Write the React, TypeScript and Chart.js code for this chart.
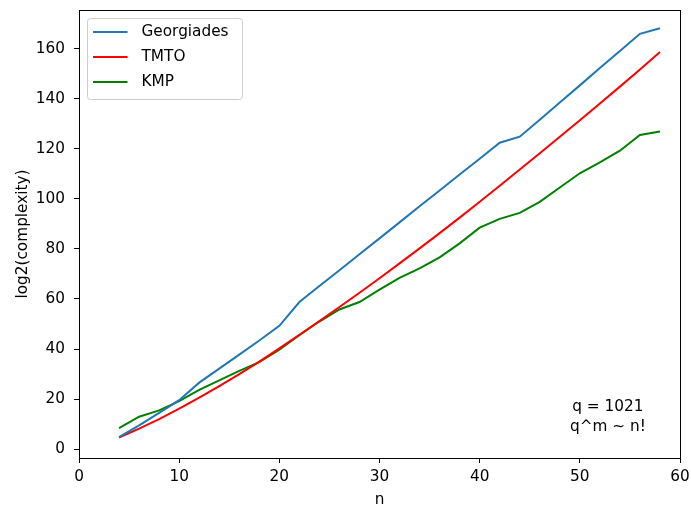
import React, { useEffect, useRef } from "react";
import { Chart, registerables } from "chart.js";

Chart.register(...registerables);

const nValues = [4, 6, 8, 10, 12, 14, 16, 18, 20, 22, 24, 26, 28, 30, 32, 34, 36, 38, 40, 42, 44, 46, 48, 50, 52, 54, 56, 58];
const georgiades = [4.8, 9.5, 14.5, 19.6, 26.6, 32.2, 37.8, 43.4, 49.3, 58.8, 65.2, 71.5, 77.9, 84.2, 90.6, 97.0, 103.3, 109.7, 116.0, 122.4, 124.8, 131.6, 138.5, 145.3, 152.2, 159.0, 165.9, 168.1];
const tmto = [4.7, 8.2, 12.0, 16.2, 20.6, 25.2, 30.0, 35.0, 40.3, 45.7, 51.2, 56.8, 62.5, 68.3, 74.2, 80.2, 86.3, 92.5, 98.8, 105.2, 111.7, 118.2, 124.8, 131.4, 138.1, 144.8, 151.6, 158.6];
const kmp = [8.4, 13.0, 15.5, 19.2, 23.7, 27.5, 31.3, 34.8, 39.8, 45.5, 51.0, 55.8, 58.8, 63.7, 68.4, 72.2, 76.6, 82.2, 88.5, 92.0, 94.4, 98.8, 104.5, 110.2, 114.6, 119.2, 125.5, 126.9];

const seriesNames = ["Georgiades", "TMTO", "KMP"];
const seriesColors = ["#1f77b4", "#ff0000", "#008000"];
const xTicks = [0, 10, 20, 30, 40, 50, 60];
const yTicks = [0, 20, 40, 60, 80, 100, 120, 140, 160];
const annotationLines = ["q = 1021", "q^m ~ n!"];
const xTitle = "n";
const yTitle = "log2(complexity)";

const FONT = "'DejaVu Sans', sans-serif";
const FS = 15.3;

export default function App() {
  const ref = useRef<HTMLCanvasElement | null>(null);

  useEffect(() => {
    document.body.style.margin = "0";
    const canvas = ref.current;
    if (!canvas) return;

    const allSeries = [georgiades, tmto, kmp];

    const framePlugin = {
      id: "frameLegendNote",
      afterDatasetsDraw(chart: any) {
        const { ctx, chartArea } = chart;
        const { left, top, right, bottom } = chartArea;
        ctx.save();
        // frame
        ctx.strokeStyle = "#000";
        ctx.lineWidth = 1;
        ctx.strokeRect(Math.round(left) + 0.5, Math.round(top) + 0.5, Math.round(right - left), Math.round(bottom - top));

        // legend
        const lx = left + 8.5;
        const ly = top + 8.5;
        const lw = 155;
        const lh = 81;
        ctx.beginPath();
        (ctx as any).roundRect(lx, ly, lw, lh, 3);
        ctx.fillStyle = "rgba(255,255,255,0.8)";
        ctx.fill();
        ctx.strokeStyle = "#cccccc";
        ctx.lineWidth = 1;
        ctx.stroke();
        ctx.font = `${FS}px ${FONT}`;
        ctx.textBaseline = "middle";
        ctx.textAlign = "left";
        seriesNames.forEach((name, i) => {
          const y = ly + 13.5 + i * 25;
          ctx.beginPath();
          ctx.strokeStyle = seriesColors[i];
          ctx.lineWidth = 2;
          ctx.moveTo(lx + 5.5, y);
          ctx.lineTo(lx + 40, y);
          ctx.stroke();
          ctx.fillStyle = "#000";
          ctx.fillText(name, lx + 54, y);
        });

        // annotation
        const xs = chart.scales.x;
        const ys = chart.scales.y;
        const cx = xs.getPixelForValue(52.8);
        const cy = ys.getPixelForValue(12.9);
        ctx.textAlign = "center";
        ctx.fillStyle = "#000";
        ctx.fillText(annotationLines[0], cx, cy - 10);
        ctx.fillText(annotationLines[1], cx, cy + 10);
        ctx.restore();
      },
    };

    const zeroPad = (scale: any) => {
      scale.paddingTop = 0;
      scale.paddingBottom = 0;
      scale.paddingLeft = 0;
      scale.paddingRight = 0;
    };

    const chart = new Chart(canvas, {
      type: "line",
      data: {
        datasets: allSeries.map((s, i) => ({
          label: seriesNames[i],
          data: nValues.map((n, j) => ({ x: n, y: s[j] })),
          borderColor: seriesColors[i],
          backgroundColor: seriesColors[i],
          borderWidth: 2,
          pointRadius: 0,
          tension: 0,
          fill: false,
        })),
      },
      options: {
        responsive: false,
        animation: false,
        layout: { padding: { left: 0, right: 11, top: 10, bottom: 0 } },
        plugins: {
          legend: { display: false },
          tooltip: { enabled: false },
        },
        scales: {
          x: {
            type: "linear",
            min: 0,
            max: 60,
            afterFit: (scale: any) => {
              scale.height = 49;
              zeroPad(scale);
            },
            afterBuildTicks: (scale: any) => {
              scale.ticks = xTicks.map((v) => ({ value: v }));
            },
            border: { display: false },
            grid: { drawOnChartArea: false, drawTicks: true, tickLength: 5, color: "#000", tickWidth: 1 },
            ticks: { color: "#000", font: { family: FONT, size: FS }, padding: 5, maxRotation: 0 },
            title: { display: true, text: xTitle, color: "#000", font: { family: FONT, size: FS, lineHeight: 1 }, padding: { top: 0, bottom: -1 } },
          },
          y: {
            type: "linear",
            min: -3.5,
            max: 175.4,
            afterFit: (scale: any) => {
              scale.width = 79;
              zeroPad(scale);
            },
            afterBuildTicks: (scale: any) => {
              scale.ticks = yTicks.map((v) => ({ value: v }));
            },
            border: { display: false },
            grid: { drawOnChartArea: false, drawTicks: true, tickLength: 5, color: "#000", tickWidth: 1 },
            ticks: { color: "#000", font: { family: FONT, size: FS }, padding: 9 },
            title: { display: true, text: yTitle, color: "#000", font: { family: FONT, size: FS }, padding: { top: 13.5, bottom: 0 } },
          },
        },
      },
      plugins: [framePlugin],
    });

    return () => chart.destroy();
  }, []);

  return (
    <div style={{ width: 691, height: 507 }}>
      <canvas ref={ref} width={691} height={507} />
    </div>
  );
}
